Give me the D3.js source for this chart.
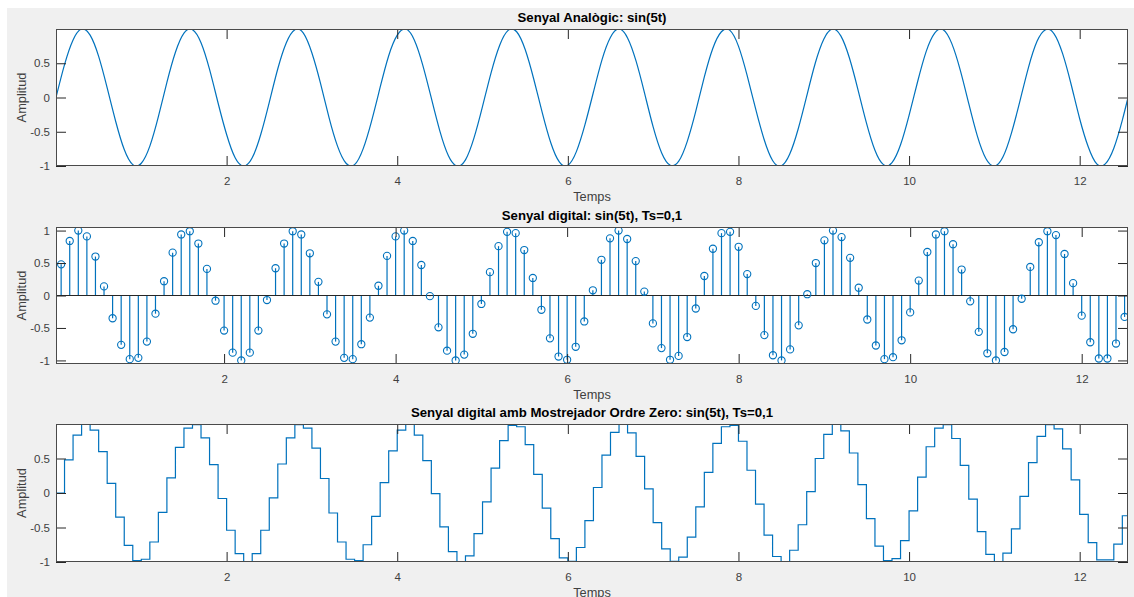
<!DOCTYPE html>
<html>
<head>
<meta charset="utf-8">
<script src="https://cdn.jsdelivr.net/npm/d3@7/dist/d3.min.js"></script>
<style>
    body { margin: 0; background: #fff; }
    text { font-family: "Liberation Sans", Arial, Helvetica, sans-serif; }
</style>
</head>
<body>
<svg id="fig" width="1134" height="597"></svg>
<script>
'use strict';

// sampling period and time span (from the titles / x limits)
var Ts   = 0.1,
    tEnd = 4 * Math.PI;

// sin(5t) read at t = 0, 0.1, 0.2 ... 12.6
var samples = [
     0.00,  0.48,  0.84,  1.00,  0.91,  0.60,  0.14, -0.35, -0.76, -0.98,
    -0.96, -0.71, -0.28,  0.22,  0.66,  0.94,  0.99,  0.80,  0.41, -0.08,
    -0.54, -0.88, -1.00, -0.88, -0.54, -0.07,  0.42,  0.80,  0.99,  0.94,
     0.65,  0.21, -0.29, -0.71, -0.96, -0.98, -0.75, -0.34,  0.15,  0.61,
     0.91,  1.00,  0.84,  0.47, -0.01, -0.49, -0.85, -1.00, -0.91, -0.59,
    -0.13,  0.36,  0.76,  0.98,  0.96,  0.70,  0.27, -0.22, -0.66, -0.94,
    -0.99, -0.79, -0.40,  0.08,  0.55,  0.88,  1.00,  0.87,  0.53,  0.06,
    -0.43, -0.81, -0.99, -0.93, -0.64, -0.20,  0.30,  0.72,  0.96,  0.98,
     0.75,  0.33, -0.16, -0.61, -0.92, -1.00, -0.83, -0.46,  0.02,  0.50,
     0.85,  1.00,  0.90,  0.58,  0.12, -0.37, -0.77, -0.98, -0.95, -0.69,
    -0.26,  0.23,  0.67,  0.94,  0.99,  0.79,  0.40, -0.09, -0.56, -0.89,
    -1.00, -0.87, -0.52, -0.05,  0.44,  0.82,  0.99,  0.93,  0.64,  0.19,
    -0.31, -0.72, -0.97, -0.97, -0.74, -0.33,  0.17
];

var xTicks     = [2, 4, 6, 8, 10, 12],
    yTicks     = [-1, -0.5, 0, 0.5],
    yTicksStem = [-1, -0.5, 0, 0.5, 1];

var titles = [
    "Senyal Analògic: sin(5t)",
    "Senyal digital: sin(5t), Ts=0,1",
    "Senyal digital amb Mostrejador Ordre Zero: sin(5t), Ts=0,1"
];
var xLabel = "Temps",
    yLabel = "Amplitud";

var blue    = "#0072BD",
    axColor = "#262626",
    tickLen = 10;

var points = samples.map(function(v, i){ return {t: i * Ts, v: v}; });

var svg = d3.select("#fig");

// figure background (white strip at top/left like the window)
svg.append("rect").attr("width", 1134).attr("height", 597).attr("fill", "#fff");
svg.append("rect").attr("x", 7).attr("y", 8).attr("width", 1127).attr("height", 589).attr("fill", "#f0f0f0");

function makeAxes(id, box, xdom, ydom, yt, title) {
    var x = d3.scaleLinear().domain(xdom).range([box.left, box.right]),
        y = d3.scaleLinear().domain(ydom).range([box.bottom, box.top]);

    var g = svg.append("g").attr("class", "ax-" + id);

    g.append("rect")
        .attr("x", box.left).attr("y", box.top)
        .attr("width", box.right - box.left).attr("height", box.bottom - box.top)
        .attr("fill", "#fff");

    svg.append("clipPath").attr("id", "clip-" + id)
        .append("rect")
        .attr("x", box.left).attr("y", box.top)
        .attr("width", box.right - box.left).attr("height", box.bottom - box.top);

    var plot = g.append("g").attr("clip-path", "url(#clip-" + id + ")");

    // axes with inward ticks on all four sides
    var fmt = function(d){ return String(d); };
    g.append("g").attr("transform", "translate(0," + box.bottom + ")")
        .call(d3.axisBottom(x).tickValues(xTicks).tickFormat(fmt).tickSizeInner(-tickLen).tickSizeOuter(0).tickPadding(11));
    g.append("g").attr("transform", "translate(0," + box.top + ")")
        .call(d3.axisTop(x).tickValues(xTicks).tickFormat("").tickSizeInner(-tickLen).tickSizeOuter(0));
    g.append("g").attr("transform", "translate(" + box.left + ",0)")
        .call(d3.axisLeft(y).tickValues(yt).tickFormat(fmt).tickSizeInner(-tickLen).tickSizeOuter(0).tickPadding(6));
    g.append("g").attr("transform", "translate(" + box.right + ",0)")
        .call(d3.axisRight(y).tickValues(yt).tickFormat("").tickSizeInner(-tickLen).tickSizeOuter(0));

    g.selectAll(".domain").remove();
    g.selectAll(".tick line").attr("stroke", axColor).attr("stroke-width", 1);
    g.selectAll(".tick text")
        .attr("fill", "#404040")
        .style("font-size", "11.5px")
        .style("font-family", '"Liberation Sans", Arial, sans-serif');

    // box
    g.append("rect")
        .attr("x", box.left + 0.5).attr("y", box.top + 0.5)
        .attr("width", box.right - box.left - 1).attr("height", box.bottom - box.top - 1)
        .attr("fill", "none").attr("stroke", "#4a4a4a").attr("stroke-width", 1);

    // labels
    g.append("text")
        .attr("x", (box.left + box.right) / 2).attr("y", box.top - 7)
        .attr("text-anchor", "middle")
        .style("font-size", "13.2px").style("font-weight", "bold")
        .attr("fill", "#000")
        .text(title);
    g.append("text")
        .attr("x", (box.left + box.right) / 2).attr("y", box.bottom + 35)
        .attr("text-anchor", "middle")
        .style("font-size", "12.8px")
        .attr("fill", "#404040")
        .text(xLabel);
    g.append("text")
        .attr("transform", "translate(26," + (box.top + box.bottom) / 2 + ") rotate(-90)")
        .attr("text-anchor", "middle")
        .style("font-size", "12.8px")
        .attr("fill", "#404040")
        .text(yLabel);

    return {x: x, y: y, plot: plot, g: g};
}

// 1. analog signal
var a1 = makeAxes(1, {left: 56, right: 1128, top: 29, bottom: 166}, [0, tEnd], [-1, 1], yTicks, titles[0]);
a1.plot.append("path")
    .datum(points)
    .attr("fill", "none")
    .attr("stroke", blue)
    .attr("stroke-width", 1.2)
    .attr("d", d3.line()
        .x(function(d){ return a1.x(d.t); })
        .y(function(d){ return a1.y(d.v); })
        .curve(d3.curveNatural));

// 2. sampled signal (stem)
var a2 = makeAxes(2, {left: 56, right: 1128, top: 227, bottom: 364}, [0.04, 12.54], [-1.055, 1.055], yTicksStem, titles[1]);
var stems = points.slice(1, 126);
a2.plot.selectAll("line.stem")
    .data(stems)
    .enter().append("line")
        .attr("class", "stem")
        .attr("x1", function(d){ return a2.x(d.t); })
        .attr("x2", function(d){ return a2.x(d.t); })
        .attr("y1", a2.y(0))
        .attr("y2", function(d){ return a2.y(d.v); })
        .attr("stroke", blue)
        .attr("stroke-width", 1.2);
a2.plot.append("line")
    .attr("x1", a2.x.range()[0]).attr("x2", a2.x.range()[1])
    .attr("y1", a2.y(0)).attr("y2", a2.y(0))
    .attr("stroke", axColor).attr("stroke-width", 1);
a2.plot.selectAll("circle.mark")
    .data(stems)
    .enter().append("circle")
        .attr("class", "mark")
        .attr("cx", function(d){ return a2.x(d.t); })
        .attr("cy", function(d){ return a2.y(d.v); })
        .attr("r", 3.6)
        .attr("fill", "none")
        .attr("stroke", blue)
        .attr("stroke-width", 1.1);

// 3. zero order hold
var a3 = makeAxes(3, {left: 56, right: 1128, top: 424, bottom: 562}, [0, tEnd], [-1, 1], yTicks, titles[2]);
a3.plot.append("path")
    .datum(points)
    .attr("fill", "none")
    .attr("stroke", blue)
    .attr("stroke-width", 1.2)
    .attr("d", d3.line()
        .x(function(d){ return a3.x(d.t); })
        .y(function(d){ return a3.y(d.v); })
        .curve(d3.curveStepAfter));
</script>
</body>
</html>
